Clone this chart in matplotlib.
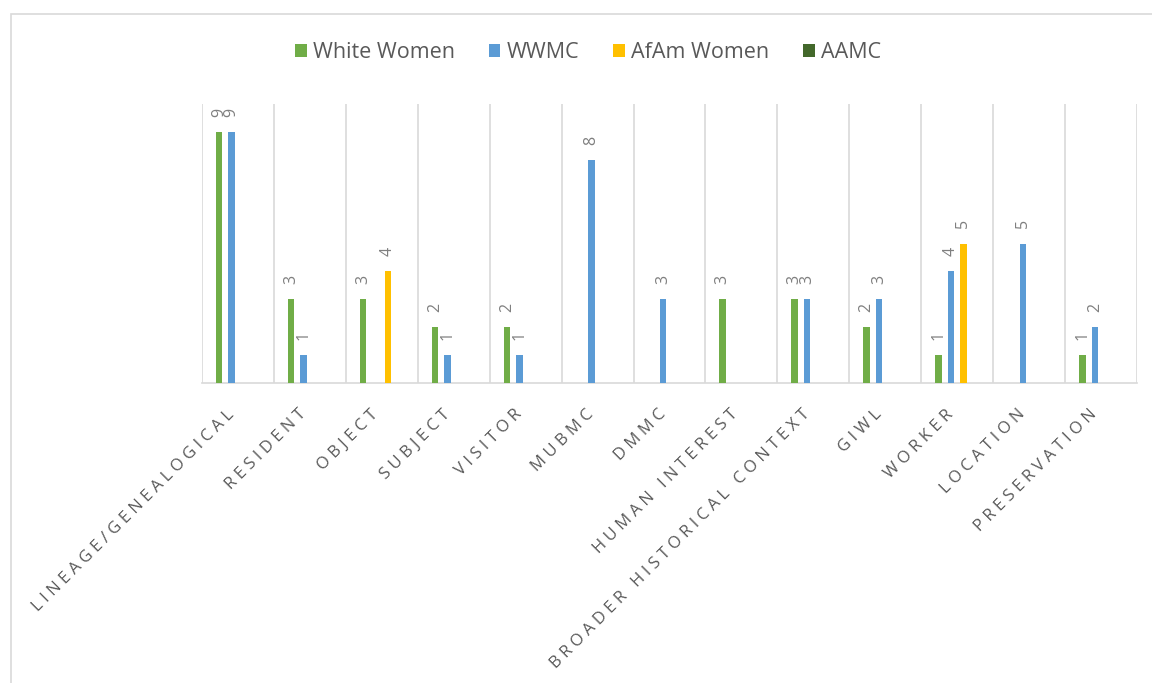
import matplotlib.pyplot as plt
from matplotlib.patches import Rectangle
from matplotlib.transforms import ScaledTranslation
import numpy as np

plt.rcParams['font.family'] = ['Open Sans', 'DejaVu Sans']

# categories along the x axis
categories = ['LINEAGE/GENEALOGICAL', 'RESIDENT', 'OBJECT', 'SUBJECT', 'VISITOR',
              'MUBMC', 'DMMC', 'HUMAN INTEREST', 'BROADER HISTORICAL CONTEXT',
              'GIWL', 'WORKER', 'LOCATION', 'PRESERVATION']

# counts per series (0 = no entry)
white_women = [9, 3, 3, 2, 2, 0, 0, 3, 3, 2, 1, 0, 1]
wwmc        = [9, 1, 0, 1, 1, 8, 3, 0, 3, 3, 4, 5, 2]
afam_women  = [0, 0, 4, 0, 0, 0, 0, 0, 0, 0, 5, 0, 0]
aamc        = [0, 0, 0, 0, 0, 0, 0, 0, 0, 0, 0, 0, 0]

series_names = ['White Women', 'WWMC', 'AfAm Women', 'AAMC']
colors = ['#70AD47', '#5B9BD5', '#FFC000', '#43682B']
text_grey = '#595959'

fig = plt.figure(figsize=(11.52, 6.83), dpi=100)
ax = fig.add_axes([202 / 1152, 1 - 383 / 683, 935 / 1152, 279 / 683])

# chart frame, runs off the right and bottom edges
fig.patches.append(Rectangle((11 / 1152, -0.1), 1.2, 0.1 + 1 - 14 / 683,
                             transform=fig.transFigure, fill=False,
                             edgecolor='#d9d9d9', linewidth=1.2))

x = np.arange(len(categories))
slot = 0.174
width = 0.09
for i, (vals, name, c) in enumerate(zip([white_women, wwmc, afam_women, aamc],
                                        series_names, colors)):
    pos = x + (i - 1.5) * slot
    ax.bar(pos, vals, width=width, color=c, label=name, zorder=3)
    for px, v in zip(pos, vals):
        if v:
            ax.annotate(str(v), (px, v), xytext=(0, 11), textcoords='offset points',
                        rotation=90, ha='center', va='bottom', fontsize=11.5,
                        color='#7f7f7f')

ax.set_xlim(-0.5, len(categories) - 0.5)
ax.set_ylim(0, 10)

# vertical separators between categories
for b in np.arange(-0.5, len(categories), 1.0):
    ax.axvline(b, color='#d9d9d9', linewidth=1.2, zorder=1)

for s in ['top', 'left', 'right']:
    ax.spines[s].set_visible(False)
ax.spines['bottom'].set_color('#d9d9d9')
ax.spines['bottom'].set_linewidth(1.2)
ax.set_yticks([])
ax.set_xticks(x)
# widen letter spacing of the category names
spaced = ['\u2009\u200a'.join(c) for c in categories]
ax.set_xticklabels(spaced, rotation=45, ha='right', va='top', rotation_mode='anchor',
                   fontsize=12, color=text_grey)
ax.tick_params(axis='x', length=0, pad=14)
shift = ScaledTranslation(-12 / 100, -4 / 100, fig.dpi_scale_trans)
for lbl in ax.get_xticklabels():
    lbl.set_transform(lbl.get_transform() + shift)

fig.legend(loc='center', bbox_to_anchor=(588 / 1152, 1 - 53 / 683), ncol=4,
           frameon=False, fontsize=15.5, handlelength=0.55, handleheight=0.55,
           columnspacing=1.55, handletextpad=0.3, labelcolor=text_grey)

fig.savefig('out.png', dpi=100)
